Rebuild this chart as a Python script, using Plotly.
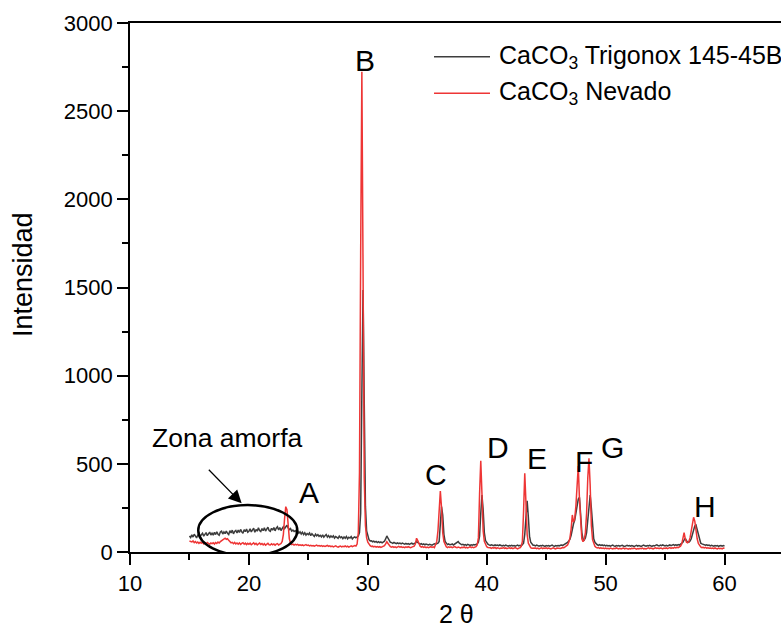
import numpy as np
import plotly.graph_objects as go

# 2-theta sampling grid (degrees), 0.1° step from 15 to 60
two_theta = np.round(np.arange(15.0, 60.05, 0.1), 1)

# Diffractogram intensities, one row per degree (x.0 .. x.9)
intensidad_trigonox = [
    91, 82, 97, 85, 101, 88, 80, 96, 104, 89,          # 15
    97, 106, 90, 101, 110, 93, 103, 113, 96, 107,      # 16
    96, 111, 99, 115, 101, 95, 113, 118, 102, 114,     # 17
    104, 119, 106, 99, 121, 108, 124, 103, 117, 122,   # 18
    108, 124, 111, 128, 114, 106, 127, 115, 130, 112,  # 19
    118, 131, 114, 126, 135, 112, 128, 118, 137, 122,  # 20
    116, 133, 121, 138, 119, 130, 141, 122, 117, 134,  # 21
    124, 139, 120, 135, 143, 125, 139, 122, 136, 144,  # 22
    133, 146, 152, 137, 127, 133, 119, 124, 116, 121,  # 23
    112, 119, 107, 115, 102, 112, 99, 109, 96, 105,    # 24
    99, 108, 93, 104, 97, 88, 101, 92, 98, 89,         # 25
    95, 86, 97, 84, 92, 99, 85, 93, 82, 91,            # 26
    84, 92, 79, 88, 83, 77, 90, 81, 86, 76,            # 27
    85, 78, 88, 75, 84, 79, 87, 74, 82, 86,            # 28
    80, 84, 90, 110, 220, 900, 1486, 850, 260, 120,    # 29
    85, 70, 63, 64, 58, 62, 56, 60, 54, 59,            # 30
    53, 57, 52, 56, 61, 74, 91, 78, 62, 55,            # 31
    53, 49, 54, 50, 47, 52, 48, 51, 46, 50,            # 32
    47, 44, 49, 45, 48, 43, 47, 50, 45, 48,            # 33
    52, 59, 55, 49, 44, 47, 42, 46, 41, 45,            # 34
    43, 40, 44, 41, 39, 43, 46, 44, 46, 50,            # 35
    60, 150, 257, 210, 100, 60, 48, 42, 46, 41,        # 36
    42, 46, 40, 44, 47, 52, 59, 50, 43, 41,            # 37
    44, 39, 42, 38, 43, 40, 37, 41, 39, 42,            # 38
    40, 43, 46, 55, 90, 220, 323, 240, 110, 65,        # 39
    50, 44, 40, 37, 41, 38, 36, 40, 37, 39,            # 40
    36, 40, 37, 34, 38, 35, 39, 36, 33, 37,            # 41
    35, 38, 34, 37, 33, 36, 39, 35, 38, 34,            # 42
    40, 50, 100, 230, 290, 200, 90, 55, 42, 38,        # 43
    38, 35, 39, 36, 33, 37, 34, 38, 35, 32,            # 44
    36, 34, 37, 33, 36, 39, 35, 32, 36, 34,            # 45
    37, 35, 38, 40, 37, 41, 44, 48, 55, 62,            # 46
    72, 95, 140, 160, 180, 215, 260, 300, 310, 200,    # 47
    110, 75, 68, 80, 110, 180, 270, 323, 250, 130,     # 48
    75, 55, 45, 41, 38, 42, 37, 40, 36, 39,            # 49
    35, 38, 34, 37, 33, 36, 39, 35, 32, 36,            # 50
    34, 37, 33, 36, 38, 34, 31, 35, 38, 34,            # 51
    36, 33, 37, 34, 31, 35, 38, 33, 36, 34,            # 52
    32, 36, 39, 35, 33, 37, 34, 38, 35, 32,            # 53
    36, 34, 38, 41, 37, 34, 39, 36, 40, 37,            # 54
    35, 38, 34, 37, 40, 36, 39, 42, 38, 41,            # 55
    38, 42, 39, 44, 47, 55, 68, 78, 64, 56,            # 56
    56, 62, 75, 100, 130, 148, 153, 125, 88, 62,       # 57
    50, 46, 43, 40, 38, 41, 37, 39, 35, 38,            # 58
    36, 33, 37, 34, 36, 32, 35, 37, 33, 36,            # 59
    34,                                                # 60
]

intensidad_nevado = [
    62, 58, 57, 63, 53, 59, 51, 57, 49, 55,            # 15
    50, 55, 46, 52, 45, 54, 48, 44, 51, 47,            # 16
    52, 45, 54, 48, 56, 51, 59, 63, 70, 74,            # 17
    78, 72, 75, 66, 58, 52, 55, 47, 54, 46,            # 18
    51, 44, 52, 43, 49, 53, 44, 50, 42, 49,            # 19
    44, 50, 41, 48, 52, 43, 49, 40, 47, 51,            # 20
    43, 48, 40, 47, 39, 46, 49, 41, 40, 47,            # 21
    41, 46, 39, 45, 48, 40, 44, 48, 60, 100,           # 22
    190, 257, 240, 140, 75, 50, 42, 45, 39, 43,        # 23
    40, 43, 38, 41, 37, 40, 36, 39, 42, 37,            # 24
    39, 35, 38, 34, 37, 33, 36, 39, 34, 37,            # 25
    33, 36, 32, 35, 31, 34, 37, 32, 35, 30,            # 26
    33, 29, 32, 35, 30, 27, 31, 34, 29, 32,            # 27
    30, 34, 29, 33, 28, 31, 35, 30, 33, 36,            # 28
    34, 45, 110, 450, 1700, 2724, 1600, 420, 150, 80,  # 29
    55, 42, 36, 31, 33, 29, 32, 28, 31, 27,            # 30
    30, 26, 29, 32, 36, 46, 58, 48, 35, 30,            # 31
    27, 31, 26, 29, 25, 28, 32, 27, 30, 26,            # 32
    28, 25, 29, 26, 30, 27, 24, 28, 31, 33,            # 33
    45, 78, 65, 45, 33, 28, 31, 26, 29, 25,            # 34
    28, 24, 27, 30, 26, 29, 25, 40, 60, 120,           # 35
    270, 346, 250, 110, 60, 40, 30, 25, 29, 26,        # 36
    29, 25, 28, 31, 27, 24, 28, 26, 23, 27,            # 37
    25, 29, 24, 27, 23, 26, 30, 25, 28, 24,            # 38
    27, 30, 40, 80, 330, 518, 330, 120, 60, 38,        # 39
    30, 26, 27, 24, 21, 25, 22, 26, 20, 24,            # 40
    22, 19, 23, 21, 25, 20, 23, 19, 22, 24,            # 41
    20, 23, 19, 22, 25, 21, 18, 22, 24, 32,            # 42
    60, 230, 446, 280, 100, 50, 32, 25, 21, 22,        # 43
    20, 23, 19, 22, 18, 21, 24, 19, 22, 20,            # 44
    23, 19, 22, 20, 17, 21, 24, 20, 18, 22,            # 45
    21, 24, 20, 23, 26, 24, 28, 33, 40, 55,            # 46
    80, 130, 210, 170, 190, 260, 400, 488, 300, 140,   # 47
    75, 59, 70, 110, 220, 420, 531, 380, 150, 70,      # 48
    45, 32, 26, 23, 25, 21, 24, 20, 22, 19,            # 49
    22, 19, 21, 18, 22, 20, 17, 21, 19, 23,            # 50
    20, 18, 21, 17, 20, 22, 18, 21, 19, 16,            # 51
    20, 17, 21, 19, 22, 18, 16, 20, 18, 21,            # 52
    19, 22, 18, 20, 17, 21, 24, 19, 22, 20,            # 53
    18, 21, 24, 20, 22, 19, 23, 21, 18, 22,            # 54
    20, 23, 19, 22, 25, 21, 24, 22, 26, 23,            # 55
    27, 25, 29, 33, 45, 75, 110, 75, 55, 52,           # 56
    60, 80, 120, 170, 197, 175, 120, 75, 48, 35,       # 57
    29, 25, 27, 23, 26, 22, 24, 21, 23, 20,            # 58
    22, 19, 23, 20, 18, 22, 19, 21, 18, 22,            # 59
    21,                                                # 60
]

# Peak letters and where they sit (2θ, intensity)
peak_labels = ["A", "B", "C", "D", "E", "F", "G", "H"]
peak_label_x = [25.05, 29.76, 35.72, 40.98, 44.27, 48.17, 50.6, 58.33]
peak_label_y = [335, 2790, 440, 590, 528, 516, 590, 258]

series_names = ["CaCO<sub>3</sub> Trigonox 145-45B", "CaCO<sub>3</sub> Nevado"]
series_colors = ["#3d3d3d", "#ee3535"]

x_title = "2 θ"
y_title = "Intensidad"

FONT = "Arial, 'Liberation Sans', sans-serif"

fig = go.Figure()
fig.add_trace(go.Scatter(x=two_theta, y=intensidad_trigonox, mode="lines",
                         line=dict(color=series_colors[0], width=1.5),
                         name=series_names[0], showlegend=False))
fig.add_trace(go.Scatter(x=two_theta, y=intensidad_nevado, mode="lines",
                         line=dict(color=series_colors[1], width=1.5),
                         name=series_names[1], showlegend=False))

annotations = []
for lab, lx, ly in zip(peak_labels, peak_label_x, peak_label_y):
    annotations.append(dict(x=lx, y=ly, xref="x", yref="y", text=lab,
                            showarrow=False, font=dict(size=30, color="black", family=FONT),
                            xanchor="center", yanchor="middle"))

# amorphous-zone callout
annotations.append(dict(x=18.24, y=648, xref="x", yref="y", text="Zona amorfa",
                        showarrow=False, font=dict(size=26.5, color="black", family=FONT),
                        xanchor="center", yanchor="middle"))
annotations.append(dict(x=19.39, y=276, ax=16.25, ay=493, xref="x", yref="y",
                        axref="x", ayref="y", text=" ", showarrow=True,
                        arrowhead=2, arrowsize=2, arrowwidth=1.3, arrowcolor="black"))

# axis titles placed relative to the plotting area
annotations.append(dict(x=0.5023, y=-0.1474, xref="paper", yref="paper", text=x_title,
                        showarrow=False, xanchor="center", yanchor="bottom",
                        font=dict(size=25, color="black", family=FONT)))
annotations.append(dict(x=-0.164, y=0.524, xref="paper", yref="paper", text=y_title,
                        showarrow=False, xanchor="center", yanchor="middle", textangle=-90,
                        font=dict(size=27, color="black", family=FONT)))

# legend drawn as line samples + labels
legend_y = [0.9363, 0.8671]
shapes = []
for nm, col, ly in zip(series_names, series_colors, legend_y):
    shapes.append(dict(type="line", xref="paper", yref="paper",
                       x0=0.467, x1=0.553, y0=ly, y1=ly,
                       line=dict(color=col, width=1.5)))
    annotations.append(dict(x=0.5637, y=ly, xref="paper", yref="paper", text=nm,
                            showarrow=False, xanchor="left", yanchor="middle",
                            font=dict(size=25, color="black", family=FONT)))

shapes.append(dict(type="circle", xref="x", yref="y", x0=15.74, x1=24.07,
                   y0=-21, y1=266, line=dict(color="black", width=2.5), layer="above"))

fig.update_layout(
    width=781, height=630,
    margin=dict(l=130, r=0, t=23, b=78, autoexpand=False),
    paper_bgcolor="white", plot_bgcolor="white",
    font=dict(family=FONT, color="black", size=22),
    annotations=annotations, shapes=shapes,
    showlegend=False,
)
fig.update_xaxes(
    range=[10, 64.75], tickmode="array", tickvals=[10, 20, 30, 40, 50, 60],
    ticks="outside", ticklen=11, tickwidth=1.8, tickcolor="black",
    minor=dict(tickvals=[15, 25, 35, 45, 55], ticks="outside", ticklen=6,
               tickwidth=1.8, tickcolor="black"),
    showline=True, linecolor="black", linewidth=1.8, mirror=True,
    showgrid=False, zeroline=False, automargin=False,
    tickfont=dict(size=22, family=FONT),
)
fig.update_yaxes(
    range=[0, 3000], tickmode="array", tickvals=[0, 500, 1000, 1500, 2000, 2500, 3000],
    ticks="outside", ticklen=11, tickwidth=1.8, tickcolor="black",
    minor=dict(tickvals=[250, 750, 1250, 1750, 2250, 2750], ticks="outside", ticklen=6,
               tickwidth=1.8, tickcolor="black"),
    showline=True, linecolor="black", linewidth=1.8, mirror=False,
    showgrid=False, zeroline=False, automargin=False,
    tickfont=dict(size=22, family=FONT),
)

fig.write_html("out.html")
